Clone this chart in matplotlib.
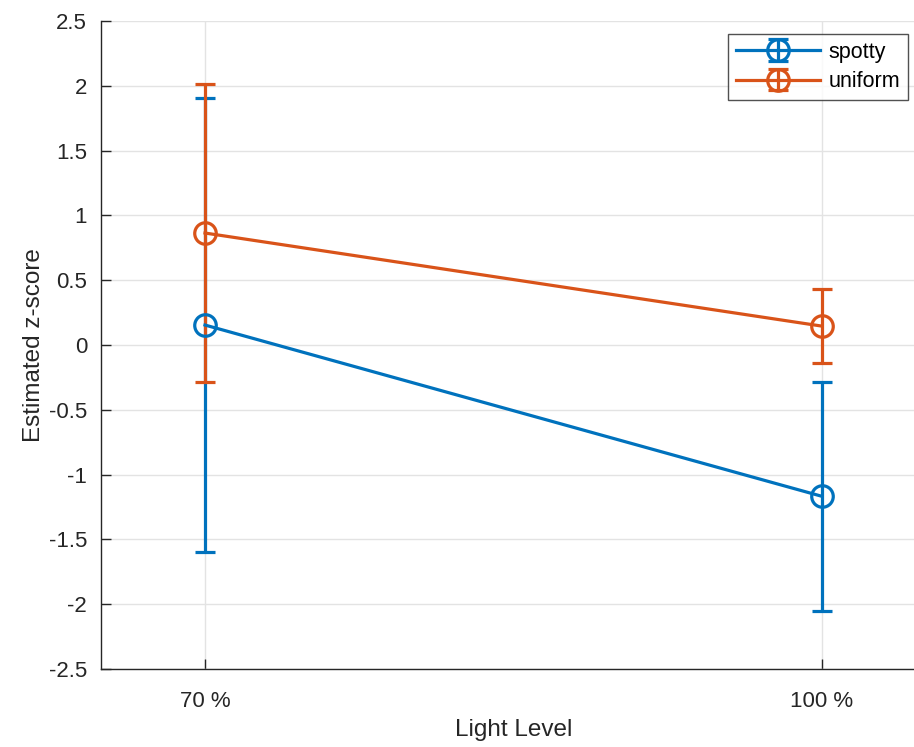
import numpy as np
import matplotlib
matplotlib.use("Agg")
import matplotlib.pyplot as plt

plt.rcParams['font.family'] = ['Liberation Sans', 'DejaVu Sans']

# data
levels = ["70 %", "100 %"]
spotty_mean = [0.154, -1.167]
spotty_err = [1.755, 0.882]
uniform_mean = [0.864, 0.146]
uniform_err = [1.15, 0.283]

blue = "#0072BD"
orange = "#D95319"
axcol = "#262626"

W, H = 914, 747
fig = plt.figure(figsize=(W / 100, H / 100), dpi=100)
left_px, right_px, top_px, bot_px = 101, 926, 21, 669
ax = fig.add_axes([left_px / W, (H - bot_px) / H,
                   (right_px - left_px) / W, (bot_px - top_px) / H])

x = np.arange(1, len(levels) + 1)
for mean, err, col, lab in [(spotty_mean, spotty_err, blue, "spotty"),
                            (uniform_mean, uniform_err, orange, "uniform")]:
    ax.errorbar(x, mean, yerr=err, color=col, lw=2.3, elinewidth=2.3,
                capsize=7, capthick=2.3, marker='o', ms=15.5, mfc='none',
                mew=2.3, label=lab)

# x positions: 1 -> 205 px, 2 -> 821.7 px
px_per = 821.7 - 205
ax.set_xlim(1 - (205 - left_px) / px_per, 2 + (right_px - 821.7) / px_per)
ax.set_ylim(-2.5, 2.5)
ax.set_xticks(x)
ax.set_xticklabels(levels)
yt = np.arange(-2.5, 2.51, 0.5)
ax.set_yticks(yt)
ax.set_yticklabels(["%g" % v for v in yt])

ax.grid(True, color="#e3e3e3", lw=1)
ax.set_axisbelow(True)
for s in ["top", "right"]:
    ax.spines[s].set_visible(False)
for s in ["left", "bottom"]:
    ax.spines[s].set_color(axcol)
    ax.spines[s].set_linewidth(1.0)
ax.tick_params(direction='in', length=7, width=1, colors=axcol,
               labelsize=16, labelcolor="#262626")
ax.tick_params(axis='y', pad=10)
ax.tick_params(axis='x', pad=16)

ax.set_xlabel("Light Level", fontsize=17.5, color="#262626", labelpad=5)
ax.set_ylabel("Estimated z-score", fontsize=17.5, color="#262626", labelpad=3)

leg = ax.legend(loc='upper right', bbox_to_anchor=((907.5 - left_px) / (right_px - left_px), (669 - 34) / (669 - 21)),
                fontsize=15.5, frameon=True, fancybox=False, handlelength=3.9,
                borderpad=0.35, labelspacing=0.4, handletextpad=0.4,
                borderaxespad=0)
leg.get_frame().set_edgecolor(axcol)
leg.get_frame().set_linewidth(1.0)

fig.savefig("out.png", dpi=100)
